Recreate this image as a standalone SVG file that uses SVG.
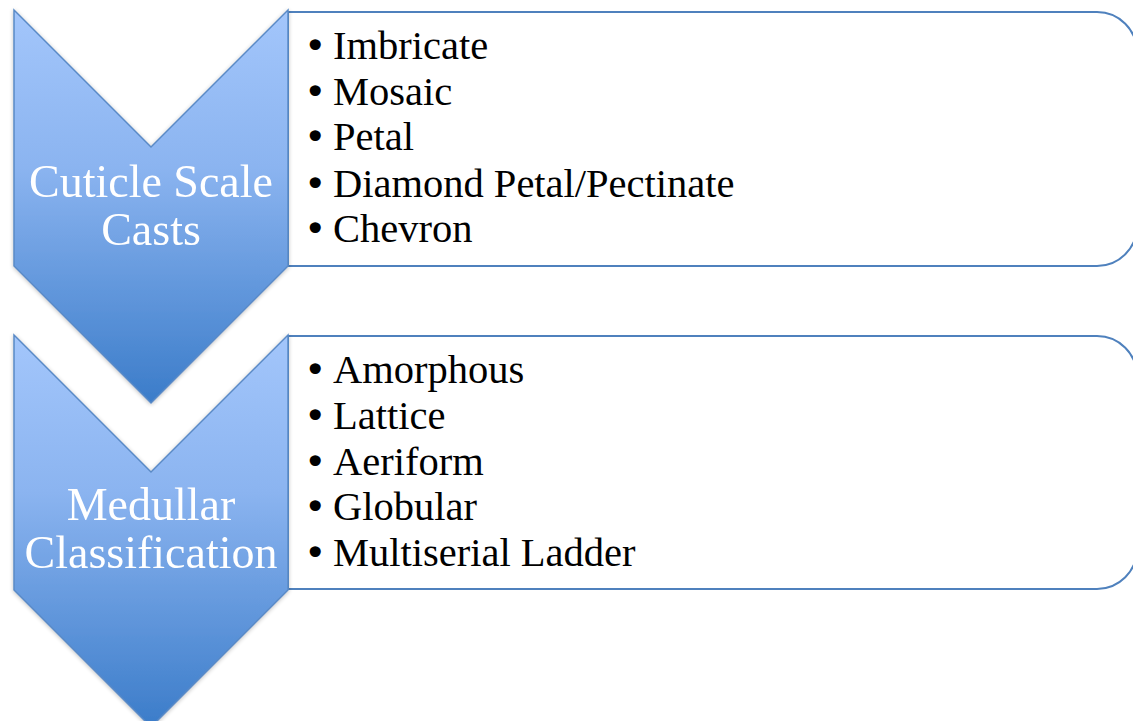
<svg xmlns="http://www.w3.org/2000/svg" width="1133" height="721" viewBox="0 0 1133 721">
<style>
.box{fill:#ffffff;stroke:#4f81bd;stroke-width:2}
.chev{fill:url(#g);stroke:#5a8ac6;stroke-width:1.5}
.lbl{font-family:"Liberation Serif",serif;font-size:46px;fill:#ffffff;text-anchor:middle}
.item{font-family:"Liberation Serif",serif;font-size:40.5px;fill:#000000}
.b{font-family:"DejaVu Sans",sans-serif;font-size:38px}
</style>
<defs>
<linearGradient id="g" x1="0" y1="0" x2="0" y2="1">
<stop offset="0" stop-color="#a3c6fb"/>
<stop offset="0.4" stop-color="#8bb4f0"/>
<stop offset="1" stop-color="#3b7cc9"/>
</linearGradient>
<filter id="sh" x="-10%" y="-10%" width="120%" height="120%">
<feGaussianBlur in="SourceAlpha" stdDeviation="2"/>
<feOffset dx="0" dy="1" result="b"/>
<feComponentTransfer><feFuncA type="linear" slope="0.25"/></feComponentTransfer>
<feMerge><feMergeNode/><feMergeNode in="SourceGraphic"/></feMerge>
</filter>
</defs>
<g id="list1">
<path class="box" d="M288,12 H1097 A40,40 0 0 1 1137,52 V226 A40,40 0 0 1 1097,266 H288 Z"/>
<text class="item" x="304" y="59"><tspan class="b">•</tspan><tspan x="333">Imbricate</tspan></text>
<text class="item" x="304" y="105"><tspan class="b">•</tspan><tspan x="333">Mosaic</tspan></text>
<text class="item" x="304" y="150"><tspan class="b">•</tspan><tspan x="333">Petal</tspan></text>
<text class="item" x="304" y="197"><tspan class="b">•</tspan><tspan x="333">Diamond Petal/Pectinate</tspan></text>
<text class="item" x="304" y="242"><tspan class="b">•</tspan><tspan x="333">Chevron</tspan></text>
</g>
<g id="list2">
<path class="box" d="M288,336 H1097 A40,40 0 0 1 1137,376 V549 A40,40 0 0 1 1097,589 H288 Z"/>
<text class="item" x="304" y="383"><tspan class="b">•</tspan><tspan x="333">Amorphous</tspan></text>
<text class="item" x="304" y="429"><tspan class="b">•</tspan><tspan x="333">Lattice</tspan></text>
<text class="item" x="304" y="475"><tspan class="b">•</tspan><tspan x="333">Aeriform</tspan></text>
<text class="item" x="304" y="520"><tspan class="b">•</tspan><tspan x="333">Globular</tspan></text>
<text class="item" x="304" y="566"><tspan class="b">•</tspan><tspan x="333">Multiserial Ladder</tspan></text>
</g>
<g id="step1" filter="url(#sh)">
<path class="chev" d="M14,10 L151,147 L288,10 V266 L151,403 L14,266 Z"/>
<text class="lbl" x="151" y="197">Cuticle Scale</text>
<text class="lbl" x="151" y="245">Casts</text>
</g>
<g id="step2" filter="url(#sh)">
<path class="chev" d="M14,335 L151,472 L288,335 V590 L151,727 L14,590 Z"/>
<text class="lbl" x="151" y="520">Medullar</text>
<text class="lbl" x="151" y="568">Classification</text>
</g>
<g id="connectors"/>
</svg>
